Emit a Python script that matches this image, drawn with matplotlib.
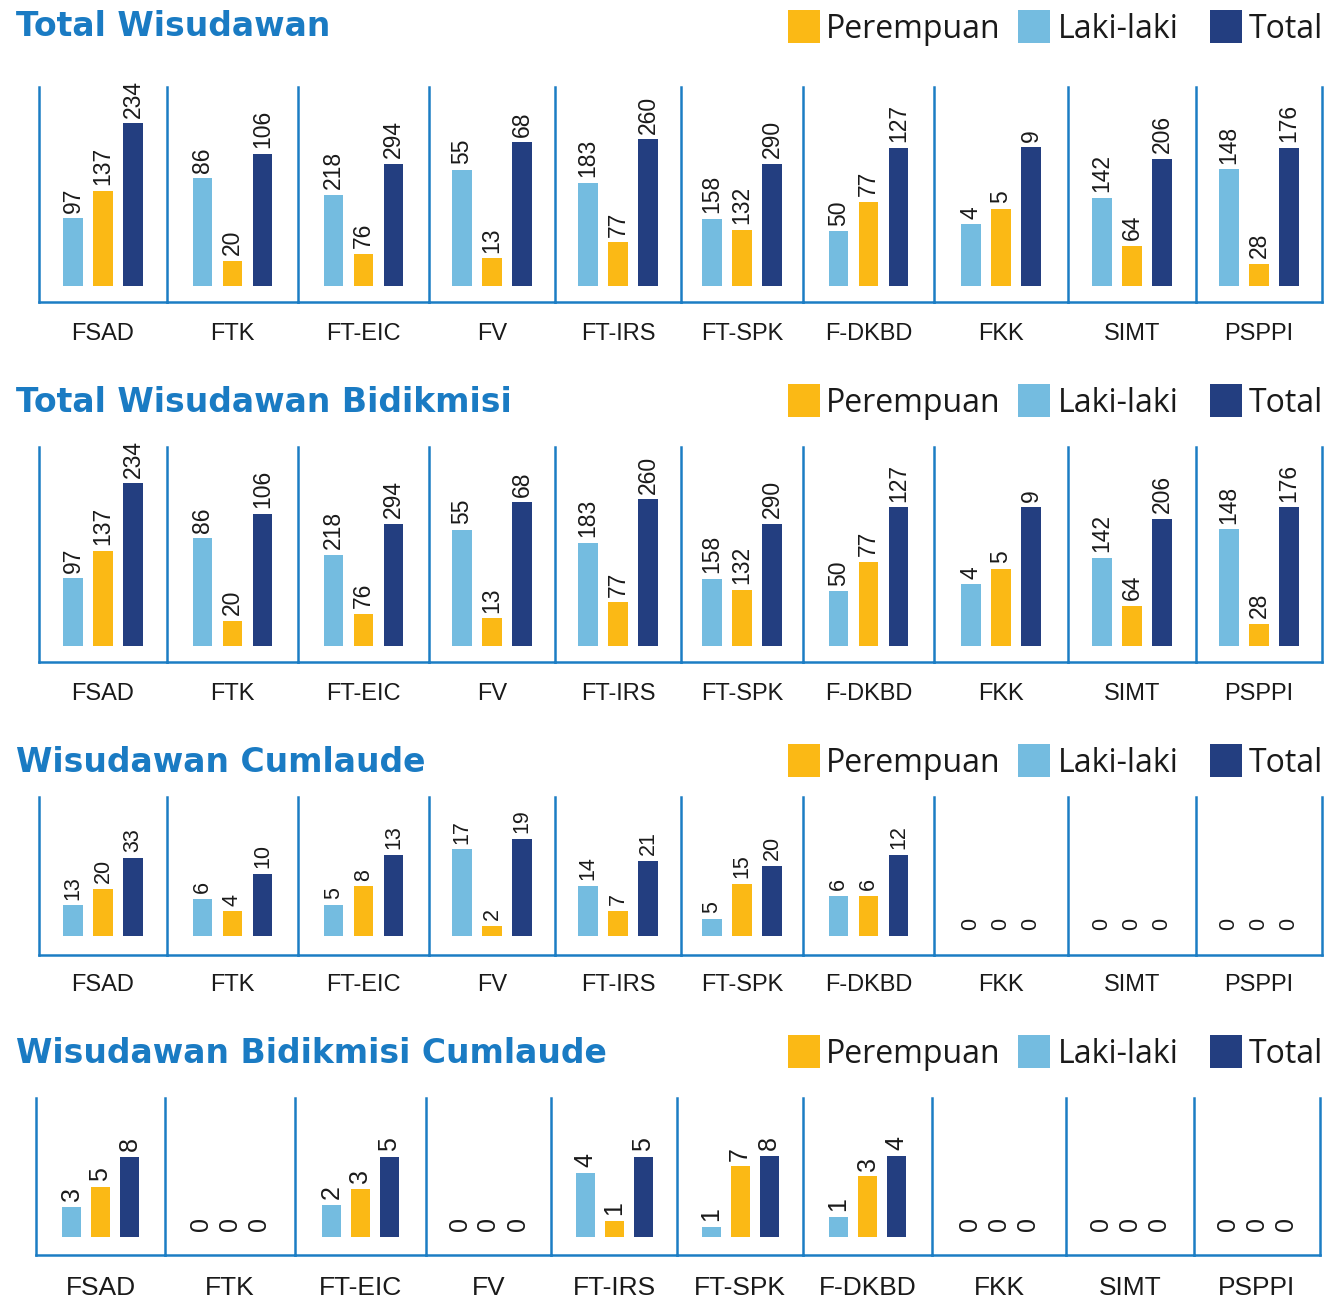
import matplotlib
matplotlib.use("Agg")
import matplotlib.pyplot as plt
from matplotlib.patches import Rectangle
import numpy as np

# ---------------- data ----------------
faculties = ["FSAD", "FTK", "FT-EIC", "FV", "FT-IRS", "FT-SPK", "F-DKBD", "FKK", "SIMT", "PSPPI"]
legend_labels = ["Perempuan", "Laki-laki", "Total"]
panel_titles = ["Total Wisudawan", "Total Wisudawan Bidikmisi",
                "Wisudawan Cumlaude", "Wisudawan Bidikmisi Cumlaude"]

wisudawan_laki = [97, 86, 218, 55, 183, 158, 50, 4, 142, 148]
wisudawan_perempuan = [137, 20, 76, 13, 77, 132, 77, 5, 64, 28]
wisudawan_total = [234, 106, 294, 68, 260, 290, 127, 9, 206, 176]

bidikmisi_laki = [97, 86, 218, 55, 183, 158, 50, 4, 142, 148]
bidikmisi_perempuan = [137, 20, 76, 13, 77, 132, 77, 5, 64, 28]
bidikmisi_total = [234, 106, 294, 68, 260, 290, 127, 9, 206, 176]

cumlaude_laki = [13, 6, 5, 17, 14, 5, 6, 0, 0, 0]
cumlaude_perempuan = [20, 4, 8, 2, 7, 15, 6, 0, 0, 0]
cumlaude_total = [33, 10, 13, 19, 21, 20, 12, 0, 0, 0]

bidik_cumlaude_laki = [3, 0, 2, 0, 4, 1, 1, 0, 0, 0]
bidik_cumlaude_perempuan = [5, 0, 3, 0, 1, 7, 3, 0, 0, 0]
bidik_cumlaude_total = [8, 0, 5, 0, 5, 8, 4, 0, 0, 0]

panel_data = [
    (wisudawan_laki, wisudawan_perempuan, wisudawan_total),
    (bidikmisi_laki, bidikmisi_perempuan, bidikmisi_total),
    (cumlaude_laki, cumlaude_perempuan, cumlaude_total),
    (bidik_cumlaude_laki, bidik_cumlaude_perempuan, bidik_cumlaude_total),
]

# ---------------- style / layout ----------------
C_LAKI = "#74bce0"
C_PER = "#fbb915"
C_TOT = "#233e80"
C_LINE = "#1c7dc4"
C_TITLE = "#1a7bc3"
C_TEXT = "#1a1a1a"
W, H = 1342, 1299

B1 = [39, 167, 298, 429, 555, 681, 803, 934, 1068, 1196, 1322]
B4 = [36, 165, 295, 426, 551, 677, 803, 932, 1066, 1194, 1320]

layouts = [
    dict(title_base=36, legend_y=26, top=87, line=302, zero=16.5, bounds=B1, step=30, bw=19.5,
         vfs=16.5, cfs=17, cat_y=332, total_px=[162, 132, 122, 143, 146, 122, 138, 138, 127, 138]),
    dict(title_base=412, legend_y=400, top=447, line=662, zero=16.5, bounds=B1, step=30, bw=19.5,
         vfs=16.5, cfs=17, cat_y=692, total_px=[162, 132, 122, 143, 146, 122, 138, 138, 127, 138]),
    dict(title_base=772, legend_y=760, top=797, line=955, zero=19, bounds=B1, step=30, bw=19.5,
         vfs=15.5, cfs=17, cat_y=983, total_px=[78, 62, 81, 97, 75, 70, 81, 80, 80, 80]),
    dict(title_base=1063, legend_y=1051, top=1098, line=1255, zero=18, bounds=B4, step=29, bw=19,
         vfs=18, cfs=19, cat_y=1286, total_px=[80, 80, 80, 80, 80, 81, 81, 80, 80, 80]),
]
legend_colors = [C_PER, C_LAKI, C_TOT]
legend_sq_x = [788, 1018, 1210]
legend_txt_x = [826, 1058, 1249]
SQ_W, SQ_H = 32, 33

fig = plt.figure(figsize=(W / 100, H / 100), dpi=100)
fig.patch.set_facecolor("white")

for p, (lay, (laki, per, tot), title) in enumerate(zip(layouts, panel_data, panel_titles)):
    top, line, zero = lay["top"], lay["line"], lay["zero"]
    bounds = lay["bounds"]
    ah = line - top
    for i, fac in enumerate(faculties):
        left, right = bounds[i], bounds[i + 1]
        gw = right - left
        ax = fig.add_axes([left / W, 1 - line / H, gw / W, ah / H])
        ax.patch.set_alpha(0)
        ax.set_xlim(-gw / 2, gw / 2)
        s = tot[i] / lay["total_px"][i] if tot[i] > 0 else 1 / 80
        ax.set_ylim(-zero * s, (ah - zero) * s)
        xs = np.array([-1, 0, 1]) * lay["step"]
        vals = [laki[i], per[i], tot[i]]
        ax.bar(xs, vals, width=lay["bw"], color=[C_LAKI, C_PER, C_TOT], linewidth=0)
        for x, v in zip(xs, vals):
            ax.annotate(str(v), xy=(x, v), xytext=(0, 4), textcoords="offset points",
                        rotation=90, ha="center", va="bottom", fontsize=lay["vfs"],
                        family="Liberation Sans", color=C_TEXT)
        for side in ["top", "right"]:
            ax.spines[side].set_visible(False)
        if i == len(faculties) - 1:
            ax.spines["right"].set_visible(True)
        for side in ["left", "bottom", "right"]:
            ax.spines[side].set_color(C_LINE)
            ax.spines[side].set_linewidth(1.8)
        ax.set_yticks([])
        ax.set_xticks([0])
        ax.set_xticklabels([fac])
        fs_px = lay["cfs"] * 100 / 72
        d = lay["cat_y"] - line
        pad = (d - 0.37 * fs_px) * 0.72
        ax.tick_params(axis="x", length=0, pad=pad, labelsize=lay["cfs"], labelcolor=C_TEXT)
        for lab in ax.get_xticklabels():
            lab.set_family("Liberation Sans")

    fig.text(16 / W, 1 - lay["title_base"] / H, title, ha="left", va="baseline",
             fontsize=23.8, fontweight="bold", color=C_TITLE, family="DejaVu Sans")

    ly = lay["legend_y"]
    for col, sx, tx, lab in zip(legend_colors, legend_sq_x, legend_txt_x, legend_labels):
        fig.add_artist(Rectangle((sx / W, 1 - (ly + SQ_H / 2) / H), SQ_W / W, SQ_H / H,
                                 transform=fig.transFigure, facecolor=col, edgecolor="none"))
        fig.text(tx / W, 1 - (ly + 12) / H, lab, ha="left", va="baseline",
                 fontsize=23, family="Open Sans", color=C_TEXT)

fig.savefig("out.png", dpi=100, facecolor="white")
